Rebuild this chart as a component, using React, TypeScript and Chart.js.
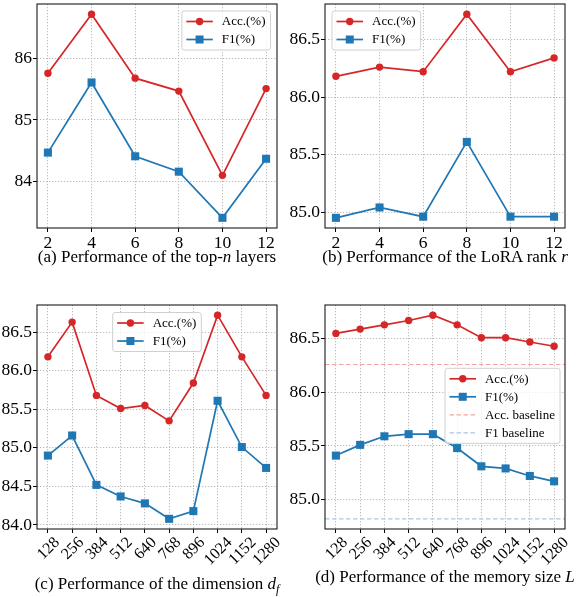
import React, { useEffect, useRef } from "react";
import { Chart, registerables } from "chart.js";

Chart.register(...registerables);

// ---------------- data ----------------
const layersX = [2, 4, 6, 8, 10, 12];
const layersAcc = [85.76, 86.72, 85.68, 85.47, 84.1, 85.51];
const layersF1 = [84.47, 85.61, 84.41, 84.16, 83.41, 84.37];
const layersYTicks = [84, 85, 86];

const rankX = [2, 4, 6, 8, 10, 12];
const rankAcc = [86.18, 86.26, 86.22, 86.72, 86.22, 86.34];
const rankF1 = [84.95, 85.04, 84.96, 85.61, 84.96, 84.96];
const rankYTicks = [85.0, 85.5, 86.0, 86.5];

const dimLabels = ["128", "256", "384", "512", "640", "768", "896", "1024", "1152", "1280"];
const dimAcc = [86.18, 86.63, 85.68, 85.51, 85.55, 85.35, 85.84, 86.72, 86.18, 85.68];
const dimF1 = [84.9, 85.16, 84.52, 84.37, 84.28, 84.08, 84.18, 85.61, 85.01, 84.74];
const dimYTicks = [84.0, 84.5, 85.0, 85.5, 86.0, 86.5];

const memLabels = ["128", "256", "384", "512", "640", "768", "896", "1024", "1152", "1280"];
const memAcc = [86.55, 86.59, 86.63, 86.67, 86.72, 86.63, 86.51, 86.51, 86.47, 86.43];
const memF1 = [85.41, 85.51, 85.59, 85.61, 85.61, 85.48, 85.31, 85.29, 85.22, 85.17];
const memAccBaseline = 86.26;
const memF1Baseline = 84.82;
const memYTicks = [85.0, 85.5, 86.0, 86.5];

// ---------------- style ----------------
const FONT = '"Liberation Serif", "Times New Roman", serif';
const RED = "#d62728";
const BLUE = "#1f77b4";
const PINK = "#f6a3a3";
const LIGHTBLUE = "#a9c5ea";
const GRID = "#b4b4b4";

type Plot = { l: number; t: number; r: number; b: number };
type LegendPos = { h: "left" | "right" | "center"; dx: number; dy: number };
type Spec = {
  plot: Plot;
  x: number[];
  xLabels: string[];
  rotated: boolean;
  acc: number[];
  f1: number[];
  yTicks: number[];
  yDec: number;
  baselines?: { acc: number; f1: number };
  legend: LegendPos;
  caption: React.ReactNode;
  captionBaseline: number;
};

function withMargin(vals: number[]): [number, number] {
  const mn = Math.min(...vals);
  const mx = Math.max(...vals);
  const m = (mx - mn) * 0.05;
  return [mn - m, mx + m];
}

const PADT = 12;
const PADR = 16;
const YW = 50;
const XH = 62;

function Panel({ spec }: { spec: Spec }) {
  const ref = useRef<HTMLCanvasElement>(null);
  useEffect(() => {
    const xs = spec.x;
    const [xmin, xmax] = withMargin(xs);
    const allY = [
      ...spec.acc,
      ...spec.f1,
      ...(spec.baselines ? [spec.baselines.acc, spec.baselines.f1] : []),
    ];
    const [ymin, ymax] = withMargin(allY);

    type Item = { label: string; color: string; marker: "circle" | "rect" | null; dash: number[] };
    const items: Item[] = [
      { label: "Acc.(%)", color: RED, marker: "circle", dash: [] },
      { label: "F1(%)", color: BLUE, marker: "rect", dash: [] },
    ];
    if (spec.baselines) {
      items.push({ label: "Acc. baseline", color: PINK, marker: null, dash: [4.5, 2.5] });
      items.push({ label: "F1 baseline", color: LIGHTBLUE, marker: null, dash: [4.5, 2.5] });
    }

    const decor = {
      id: "decor",
      beforeDatasetsDraw(chart: any) {
        if (!spec.baselines) return;
        const ctx = chart.ctx;
        const ca = chart.chartArea;
        const ys = chart.scales.y;
        const lines = [
          { v: spec.baselines.acc, c: PINK },
          { v: spec.baselines.f1, c: LIGHTBLUE },
        ];
        ctx.save();
        for (const ln of lines) {
          const py = ys.getPixelForValue(ln.v);
          ctx.strokeStyle = ln.c;
          ctx.lineWidth = 1.2;
          ctx.setLineDash([4.5, 2.5]);
          ctx.beginPath();
          ctx.moveTo(ca.left, py);
          ctx.lineTo(ca.right, py);
          ctx.stroke();
        }
        ctx.restore();
      },
      afterDraw(chart: any) {
        const ctx = chart.ctx;
        const ca = chart.chartArea;
        ctx.save();
        // frame
        ctx.strokeStyle = "#1a1a1a";
        ctx.lineWidth = 1.1;
        ctx.setLineDash([]);
        ctx.strokeRect(ca.left, ca.top, ca.right - ca.left, ca.bottom - ca.top);

        // rotated tick labels
        if (spec.rotated) {
          const xsScale = chart.scales.x;
          ctx.font = `16px ${FONT}`;
          ctx.fillStyle = "#000";
          ctx.textAlign = "center";
          ctx.textBaseline = "middle";
          spec.xLabels.forEach((lab, i) => {
            const px = xsScale.getPixelForValue(xs[i]);
            const w = ctx.measureText(lab).width;
            const side = (w + 11) * Math.SQRT1_2;
            const cy = ca.bottom + 6.5 + side / 2;
            ctx.save();
            ctx.translate(px, cy);
            ctx.rotate(-Math.PI / 4);
            ctx.fillText(lab, 0, 1);
            ctx.restore();
          });
        }

        // legend
        ctx.font = `13px ${FONT}`;
        const textW = Math.max(...items.map((it) => ctx.measureText(it.label).width));
        const boxW = 40 + textW + 5;
        const rowH = 18;
        const boxH = rowH * items.length + 3;
        let bx: number;
        if (spec.legend.h === "right") bx = ca.right - spec.legend.dx - boxW;
        else if (spec.legend.h === "left") bx = ca.left + spec.legend.dx;
        else bx = (ca.left + ca.right) / 2 - boxW / 2;
        const by = ca.top + spec.legend.dy;
        ctx.beginPath();
        (ctx as any).roundRect(bx, by, boxW, boxH, 2.5);
        ctx.fillStyle = "rgba(255,255,255,0.8)";
        ctx.fill();
        ctx.strokeStyle = "#d0d0d0";
        ctx.lineWidth = 1;
        ctx.stroke();
        items.forEach((it, i) => {
          const cy = by + 1.5 + rowH / 2 + rowH * i;
          ctx.strokeStyle = it.color;
          ctx.lineWidth = it.marker ? 1.7 : 1.2;
          ctx.setLineDash(it.dash);
          ctx.beginPath();
          ctx.moveTo(bx + 4.5, cy);
          ctx.lineTo(bx + 31, cy);
          ctx.stroke();
          ctx.setLineDash([]);
          const mx = bx + 17.75;
          ctx.fillStyle = it.color;
          if (it.marker === "circle") {
            ctx.beginPath();
            ctx.arc(mx, cy, 3.7, 0, Math.PI * 2);
            ctx.fill();
          } else if (it.marker === "rect") {
            ctx.fillRect(mx - 4, cy - 4, 8, 8);
          }
          ctx.fillStyle = "#000";
          ctx.textAlign = "left";
          ctx.textBaseline = "middle";
          ctx.fillText(it.label, bx + 40, cy + 0.5);
        });
        ctx.restore();
      },
    };

    const chart = new Chart(ref.current as HTMLCanvasElement, {
      type: "line",
      data: {
        datasets: [
          {
            label: "Acc.(%)",
            data: xs.map((x, i) => ({ x, y: spec.acc[i] })),
            borderColor: RED,
            backgroundColor: RED,
            pointBackgroundColor: RED,
            pointBorderColor: RED,
            pointStyle: "circle",
            pointRadius: 3.7,
            pointBorderWidth: 0,
            borderWidth: 1.7,
            tension: 0,
          },
          {
            label: "F1(%)",
            data: xs.map((x, i) => ({ x, y: spec.f1[i] })),
            borderColor: BLUE,
            backgroundColor: BLUE,
            pointBackgroundColor: BLUE,
            pointBorderColor: BLUE,
            pointStyle: "rect",
            pointRadius: 5.7,
            pointBorderWidth: 0,
            borderWidth: 1.7,
            tension: 0,
          },
        ],
      },
      options: {
        animation: false,
        responsive: false,
        maintainAspectRatio: false,
        devicePixelRatio: 1,
        layout: { padding: { top: PADT, right: PADR, left: 0, bottom: 0 } },
        plugins: { legend: { display: false }, tooltip: { enabled: false } },
        scales: {
          x: {
            type: "linear",
            min: xmin,
            max: xmax,
            afterBuildTicks: (s: any) => {
              s.ticks = xs.map((v) => ({ value: v }));
            },
            afterFit: (s: any) => {
              s.height = XH;
            },
            grid: {
              color: GRID,
              lineWidth: 0.9,
              drawTicks: true,
              tickLength: 4,
              tickColor: "#000",
              tickWidth: 1,
              tickBorderDash: [],
            },
            border: { display: false, dash: [1.3, 1.7] },
            ticks: {
              display: !spec.rotated,
              color: "#000",
              font: { family: FONT, size: 17.5 },
              padding: 1,
              maxRotation: 0,
              minRotation: 0,
              autoSkip: false,
              callback: (v: any) => String(v),
            },
          },
          y: {
            type: "linear",
            min: ymin,
            max: ymax,
            afterBuildTicks: (s: any) => {
              s.ticks = spec.yTicks.map((v) => ({ value: v }));
            },
            afterFit: (s: any) => {
              s.width = YW;
            },
            grid: {
              color: GRID,
              lineWidth: 0.9,
              drawTicks: true,
              tickLength: 4,
              tickColor: "#000",
              tickWidth: 1,
              tickBorderDash: [],
            },
            border: { display: false, dash: [1.3, 1.7] },
            ticks: {
              color: "#000",
              font: { family: FONT, size: 17.5 },
              padding: 1,
              autoSkip: false,
              callback: (v: any) => Number(v).toFixed(spec.yDec),
            },
          },
        },
      },
      plugins: [decor as any],
    });
    return () => chart.destroy();
  }, [spec]);

  const { plot } = spec;
  const w = plot.r - plot.l + YW + PADR;
  const h = plot.b - plot.t + PADT + XH;
  return (
    <>
      <canvas
        ref={ref}
        width={w}
        height={h}
        style={{ position: "absolute", left: plot.l - YW, top: plot.t - PADT, width: w, height: h }}
      />
      <div
        style={{
          position: "absolute",
          left: plot.l - 40,
          width: plot.r - plot.l + 80,
          top: spec.captionBaseline - 14.2,
          textAlign: "center",
          font: `17px/17px ${FONT}`,
          whiteSpace: "nowrap",
          color: "#000",
        }}
      >
        {spec.caption}
      </div>
    </>
  );
}

const specs: Spec[] = [
  {
    plot: { l: 37, t: 4, r: 277, b: 228 },
    x: layersX,
    xLabels: layersX.map(String),
    rotated: false,
    acc: layersAcc,
    f1: layersF1,
    yTicks: layersYTicks,
    yDec: 0,
    legend: { h: "right", dx: 6.5, dy: 7 },
    caption: (
      <>
        (a) Performance of the top-<i>n</i> layers
      </>
    ),
    captionBaseline: 262,
  },
  {
    plot: { l: 325, t: 4, r: 565, b: 228 },
    x: rankX,
    xLabels: rankX.map(String),
    rotated: false,
    acc: rankAcc,
    f1: rankF1,
    yTicks: rankYTicks,
    yDec: 1,
    legend: { h: "left", dx: 7, dy: 7 },
    caption: (
      <>
        (b) Performance of the LoRA rank <i>r</i>
      </>
    ),
    captionBaseline: 262,
  },
  {
    plot: { l: 37, t: 305, r: 277, b: 529 },
    x: dimLabels.map((_, i) => i),
    xLabels: dimLabels,
    rotated: true,
    acc: dimAcc,
    f1: dimF1,
    yTicks: dimYTicks,
    yDec: 1,
    legend: { h: "center", dx: 0, dy: 7.5 },
    caption: (
      <>
        (c) Performance of the dimension <i>d</i>
        <i style={{ fontSize: "12px", position: "relative", top: "4px", lineHeight: 0 }}>f</i>
      </>
    ),
    captionBaseline: 589,
  },
  {
    plot: { l: 325, t: 305, r: 565, b: 529 },
    x: memLabels.map((_, i) => i),
    xLabels: memLabels,
    rotated: true,
    acc: memAcc,
    f1: memF1,
    yTicks: memYTicks,
    yDec: 1,
    baselines: { acc: memAccBaseline, f1: memF1Baseline },
    legend: { h: "right", dx: 5, dy: 63.3 },
    caption: (
      <>
        (d) Performance of the memory size <i>L</i>
      </>
    ),
    captionBaseline: 582,
  },
];

export default function App() {
  return (
    <div
      style={{
        position: "fixed",
        left: 0,
        top: 0,
        width: 586,
        height: 597,
        overflow: "hidden",
        background: "#fff",
      }}
    >
      {specs.map((s, i) => (
        <Panel key={i} spec={s} />
      ))}
    </div>
  );
}
